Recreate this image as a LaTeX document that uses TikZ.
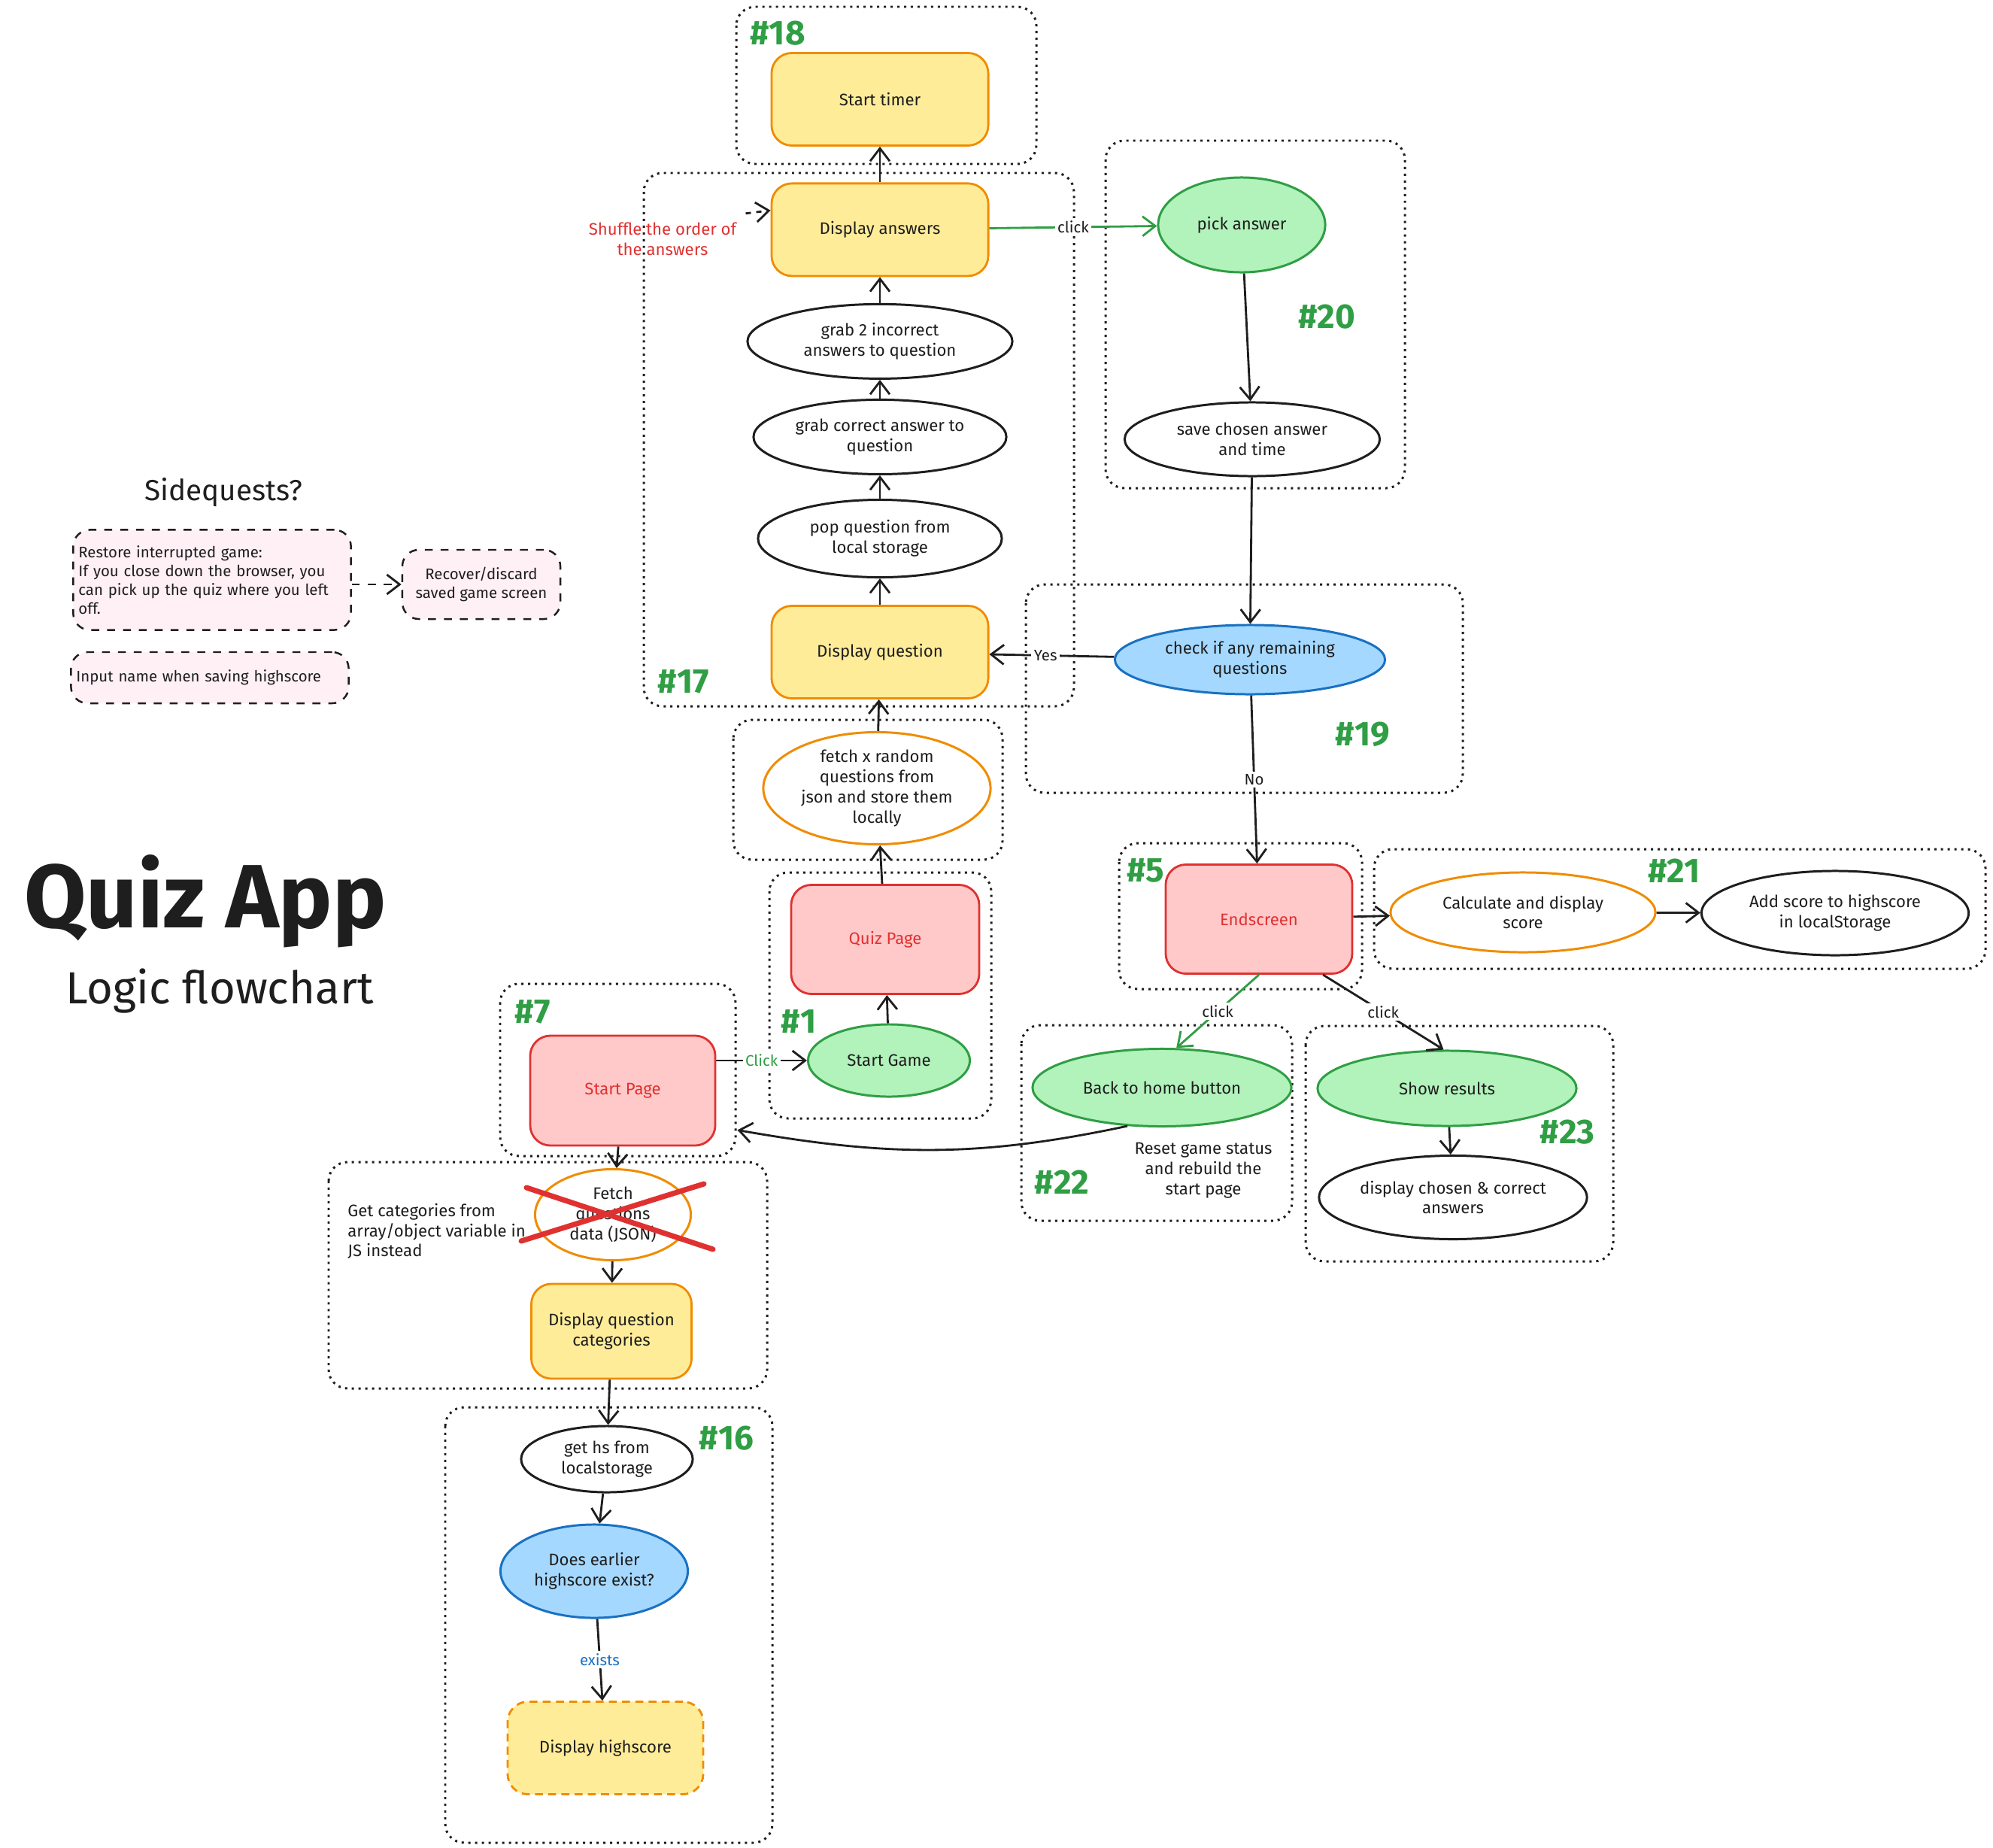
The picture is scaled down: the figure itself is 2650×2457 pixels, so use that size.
\documentclass[tikz,border=0pt]{standalone}
\usepackage{fontspec}
\setmainfont{Fira Sans}
\usetikzlibrary{shapes.geometric, arrows.meta, positioning, calc}
\definecolor{inkdark}{HTML}{1E1E1E}
\definecolor{padyellow}{HTML}{FFEC99}
\definecolor{padorange}{HTML}{F08C00}
\definecolor{padred}{HTML}{FFC9C9}
\definecolor{linered}{HTML}{E03131}
\definecolor{padgreen}{HTML}{B2F2BB}
\definecolor{linegreen}{HTML}{2F9E44}
\definecolor{padblue}{HTML}{A5D8FF}
\definecolor{lineblue}{HTML}{1971C2}
\definecolor{padpink}{HTML}{FFF0F6}
\newcommand{\nodefont}{\fontsize{6.3}{7.6}\selectfont}
\newcommand{\lblfont}{\fontsize{5.8}{7}\selectfont}
\newcommand{\sidefont}{\fontsize{5.8}{7.1}\selectfont}
\newcommand{\tagfont}{\fontsize{13}{15}\selectfont\bfseries}
\tikzset{
  box/.style={
    rectangle, rounded corners=0.27cm, draw=#1, line width=0.8pt,
    align=center, font=\nodefont, text=inkdark
  },
  ybox/.style={
    box=padorange, fill=padyellow,
    minimum width=2.88cm, minimum height=1.23cm
  },
  rbox/.style={
    box=linered, fill=padred, text=linered,
    minimum width=2.48cm, minimum height=1.45cm
  },
  oval/.style={
    ellipse, draw=#1, line width=0.85pt, inner sep=0pt, fill=white,
    align=center, font=\nodefont, text=inkdark
  },
  sidebox/.style={
    rectangle, rounded corners=0.22cm, draw=inkdark, fill=padpink,
    dashed, line width=0.7pt, font=\sidefont, text=inkdark
  },
  grp/.style={
    draw=inkdark, rounded corners=0.25cm, line width=0.85pt,
    dash pattern=on 0.85pt off 1.7pt
  },
  tag/.style={font=\tagfont, text=linegreen},
  arrow/.style={-{Straight Barb[length=1.7mm,width=2.6mm]}, line width=0.8pt, draw=#1},
  arrow/.default=inkdark,
  lbl/.style={font=\lblfont, fill=white, inner sep=1pt, text=#1},
  lbl/.default=inkdark,
  xline/.style={draw=linered, line width=2pt, line cap=round}
}
\begin{document}
\begin{tikzpicture}[x=0.01cm, y=-0.01cm]
  \fill[white] (0,0) rectangle (2650,2457);

  \draw[grp] (979,9) rectangle (1378,218);
  \draw[grp] (856,230) rectangle (1428,939);
  \draw[grp] (1470,187) rectangle (1868,649);
  \draw[grp] (1364,777) rectangle (1945,1054);
  \draw[grp] (975,957) rectangle (1333,1143);
  \draw[grp] (1023,1160) rectangle (1318,1487);
  \draw[grp] (665,1308) rectangle (978,1537);
  \draw[grp] (437,1545) rectangle (1020,1846);
  \draw[grp] (592,1871) rectangle (1027,2450);
  \draw[grp] (1488,1121) rectangle (1811,1315);
  \draw[grp] (1827,1129) rectangle (2640,1288);
  \draw[grp] (1358,1363) rectangle (1718,1623);
  \draw[grp] (1736,1364) rectangle (2145,1677);

  \node[font=\fontsize{34}{40}\selectfont\bfseries, text=inkdark] (title) at (273,1198) {Quiz App};
  \node[font=\fontsize{17}{20}\selectfont, text=inkdark] (subtitle) at (292,1318) {Logic flowchart};
  \node[font=\fontsize{11}{13}\selectfont, text=inkdark] (sideq) at (297,655) {Sidequests?};

  \node[sidebox, text width=3.55cm, inner xsep=2pt, minimum height=1.33cm,
        align=left] (restore) at (282,771)
    {Restore interrupted game:\\If you close down the browser, you\\can pick up the quiz where you left\\off.};
  \node[sidebox, minimum width=2.1cm, minimum height=0.92cm,
        align=center] (recover) at (640,777)
    {Recover/discard\\saved game screen};
  \node[sidebox, text width=3.55cm, inner xsep=2pt, minimum height=0.68cm,
        align=left] (hsname) at (279,901)
    {Input name when saving highscore};

  \node[tag] (t18) at (1034,44) {\#18};
  \node[tag] (t17) at (909,906) {\#17};
  \node[tag] (t20) at (1764,421) {\#20};
  \node[tag] (t19) at (1812,976) {\#19};
  \node[tag] (t3) at (1261,1216) {\#3};
  \node[tag] (t1) at (1062,1358) {\#1};
  \node[tag] (t7) at (708,1345) {\#7};
  \node[tag] (t5) at (1523,1157) {\#5};
  \node[tag] (t21) at (2226,1158) {\#21};
  \node[tag] (t22) at (1412,1572) {\#22};
  \node[tag] (t23) at (2084,1505) {\#23};
  \node[tag] (t16) at (966,1912) {\#16};

  \node[ybox] (dq) at (1170,867) {Display question};
  \node[oval=inkdark, minimum width=3.24cm, minimum height=1.03cm,
        above=0.35cm of dq] (pop) {pop question from\\local storage};
  \node[oval=inkdark, minimum width=3.36cm, minimum height=0.99cm,
        above=0.31cm of pop] (cor) {grab correct answer to\\question};
  \node[oval=inkdark, minimum width=3.52cm, minimum height=0.99cm,
        above=0.25cm of cor] (inc) {grab 2 incorrect\\answers to question};
  \node[ybox, above=0.345cm of inc] (dans) {Display answers};
  \node[ybox, above=0.475cm of dans] (timer) {Start timer};
  \node[text=linered, font=\nodefont, align=center] (shuffle) at (881,318)
    {Shuffle the order of\\the answers};

  \node[oval=padorange, minimum width=3.02cm, minimum height=1.49cm] (fetchq) at (1166,1048)
    {fetch x random\\questions from\\json and store them\\locally};
  \node[rbox, minimum width=2.50cm, minimum height=1.45cm] (quiz) at (1177,1249) {Quiz Page};
  \node[oval=linegreen, fill=padgreen, minimum width=2.15cm, minimum height=0.96cm] (sg) at (1182,1410)
    {Start Game};
  \node[rbox, minimum width=2.46cm, minimum height=1.46cm] (sp) at (828,1450) {Start Page};

  \node[oval=padorange, minimum width=2.07cm, minimum height=1.21cm] (fetchd) at (815,1615)
    {Fetch\\questions\\data (JSON)};
  \node[font=\nodefont, text=inkdark, align=left, anchor=west] (getcat) at (450,1637)
    {Get categories from\\array/object variable in\\JS instead};
  \node[ybox, minimum width=2.13cm, minimum height=1.26cm] (dqc) at (813,1770)
    {Display question\\categories};
  \node[oval=inkdark, minimum width=2.28cm, minimum height=0.88cm] (geths) at (807,1940)
    {get hs from\\localstorage};
  \node[oval=lineblue, fill=padblue, minimum width=2.49cm, minimum height=1.24cm] (hsq) at (790,2089)
    {Does earlier\\highscore exist?};
  \node[ybox, minimum width=2.60cm, dash pattern=on 3pt off 2pt] (dhs) at (805,2324)
    {Display highscore};

  \node[oval=linegreen, fill=padgreen, minimum width=2.22cm, minimum height=1.26cm] (pick) at (1651,299)
    {pick answer};
  \node[oval=inkdark, minimum width=3.39cm, minimum height=0.98cm] (save) at (1665,584)
    {save chosen answer\\and time};
  \node[oval=lineblue, fill=padblue, minimum width=3.59cm, minimum height=0.92cm] (chk) at (1662,877)
    {check if any remaining\\questions};

  \node[rbox] (end) at (1674,1222) {Endscreen};
  \node[oval=padorange, minimum width=3.52cm, minimum height=1.06cm] (calc) at (2025,1213)
    {Calculate and display\\score};
  \node[oval=inkdark, minimum width=3.55cm, minimum height=1.12cm] (addhs) at (2440,1214)
    {Add score to highscore\\in localStorage};
  \node[oval=linegreen, fill=padgreen, minimum width=3.44cm, minimum height=1.03cm] (home) at (1545,1446)
    {Back to home button};
  \node[font=\nodefont, text=inkdark, align=center] (reset) at (1600,1556)
    {Reset game status\\and rebuild the\\start page};
  \node[oval=linegreen, fill=padgreen, minimum width=3.44cm, minimum height=1.00cm] (res) at (1924,1447)
    {Show results};
  \node[oval=inkdark, minimum width=3.56cm, minimum height=1.11cm] (disp) at (1932,1592)
    {display chosen \& correct\\answers};

  \draw[xline] ($(fetchd.center)+(-115,-36)$) -- ($(fetchd.center)+(133,46)$);
  \draw[xline] ($(fetchd.center)+(-122,35)$) -- ($(fetchd.center)+(121,-41)$);

  \draw[arrow, dashed] (restore.east |- recover.west) -- (recover.west);
  \draw[arrow, dash pattern=on 2pt off 2pt] (shuffle.north east) -- (dans.170);

  \draw[arrow] (dans) -- (timer);
  \draw[arrow] (inc) -- (dans);
  \draw[arrow] (cor) -- (inc);
  \draw[arrow] (pop) -- (cor);
  \draw[arrow] (dq) -- (pop);
  \draw[arrow] (fetchq) -- (dq);
  \draw[arrow] (quiz) -- (fetchq);
  \draw[arrow] (sg) -- (quiz);
  \draw[arrow] (sp.east |- sg.west) -- node[lbl=linegreen] {Click} (sg.west);
  \draw[arrow] (sp) -- (fetchd);
  \draw[arrow] (fetchd) -- (dqc);
  \draw[arrow] (dqc) -- (geths);
  \draw[arrow] (geths) -- (hsq);
  \draw[arrow] (hsq) -- node[lbl=lineblue] {exists} (dhs);

  \draw[arrow=linegreen] (dans) -- node[lbl] {click} (pick);
  \draw[arrow] (pick) -- (save);
  \draw[arrow] (save) -- (chk);
  \draw[arrow] (chk) -- node[lbl, pos=0.55] {Yes} (dq);
  \draw[arrow] (chk) -- node[lbl] {No} (end);
  \draw[arrow] (end) -- (calc);
  \draw[arrow] (calc) -- (addhs);
  \draw[arrow=linegreen] (end.south) -- node[lbl] {click} (home.70);
  \draw[arrow] (end.-41) -- node[lbl] {click} (res.95);
  \draw[arrow] (res) -- (disp);
  \draw[arrow] (home.228) to[out=192, in=-10] ($(sp.south east)+(28,-22)$);
\end{tikzpicture}
\end{document}
